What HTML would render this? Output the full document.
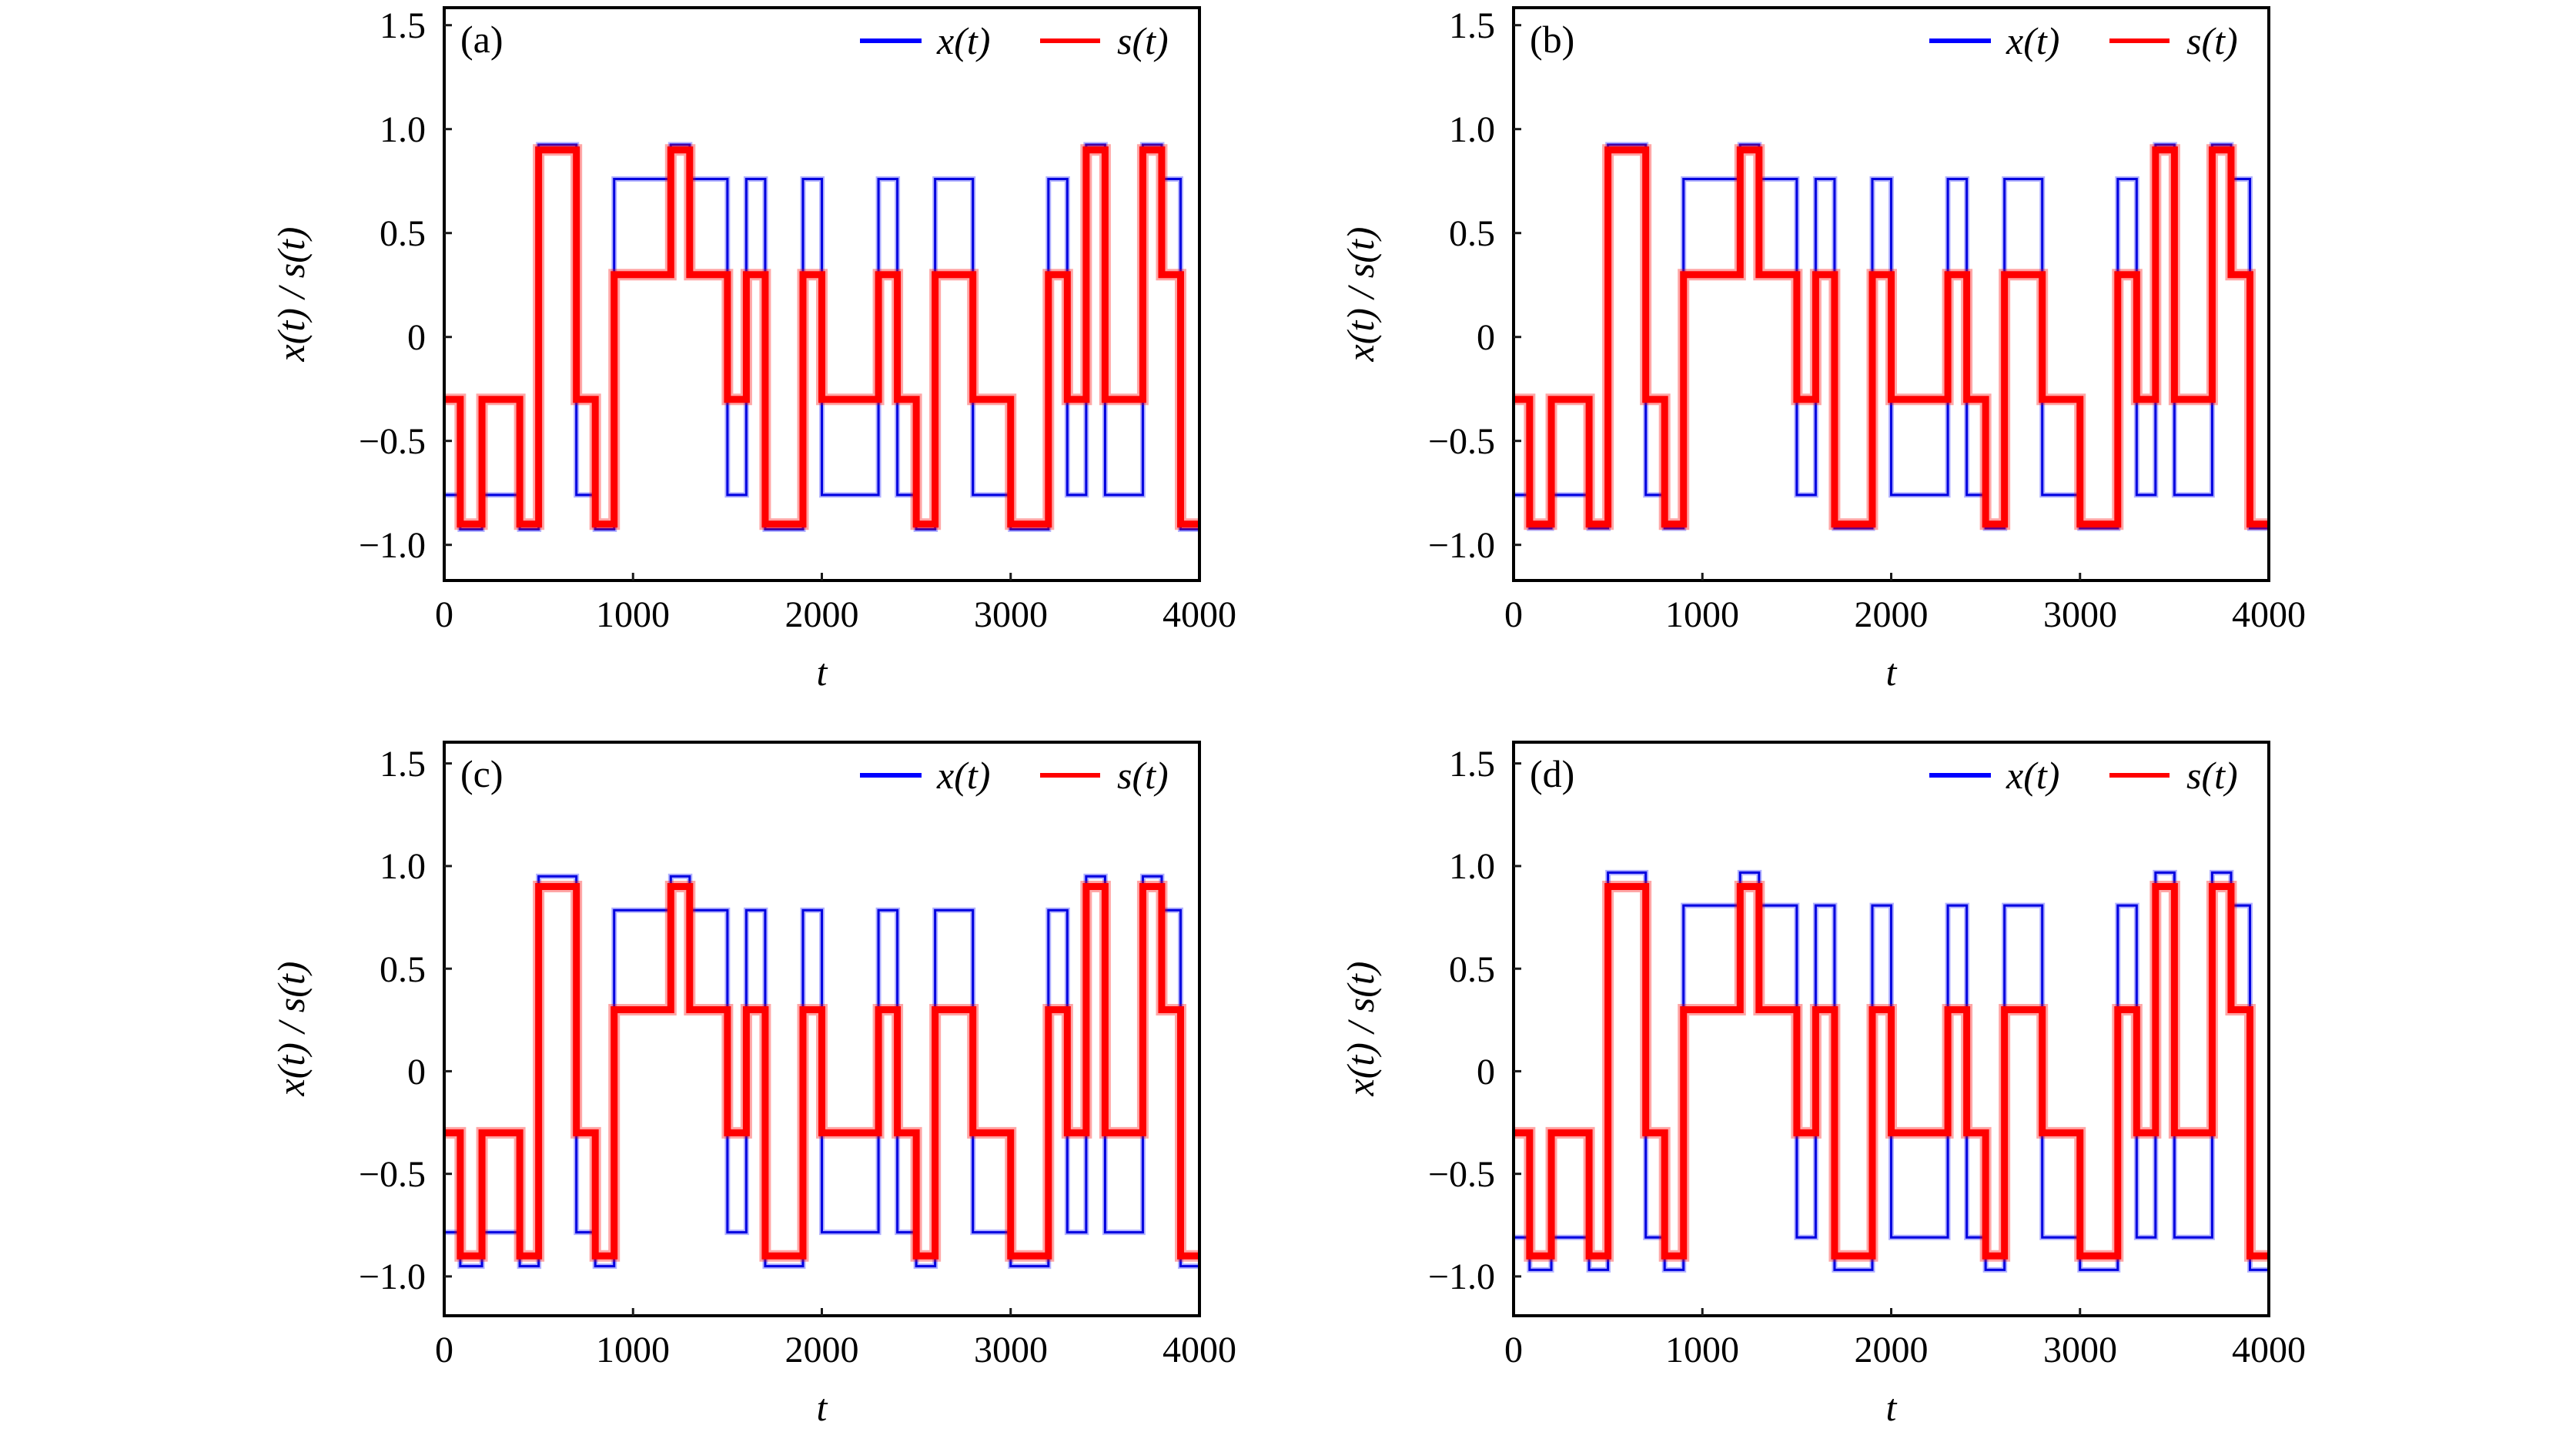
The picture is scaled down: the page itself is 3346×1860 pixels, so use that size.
<!DOCTYPE html>
<html><head><meta charset="utf-8"><style>
html,body{margin:0;padding:0;background:#fff;}
svg{display:block;}
text{font-family:"Liberation Serif","DejaVu Serif",serif;fill:#000;}
</style></head><body>
<svg xmlns="http://www.w3.org/2000/svg" width="3346" height="1860" viewBox="0 0 3346 1860">

<!-- ============ (a) ============ -->
<g>
<g transform="translate(577,437.7) scale(0.24525,-270)" fill="none">
<path d="M0 -0.76 H85 V-0.925 H200 V-0.76 H400 V-0.925 H500 V0.925 H700 V-0.76 H800 V-0.925 H900 V0.76 H1200 V0.925 H1300 V0.76 H1500 V-0.76 H1600 V0.76 H1700 V-0.925 H1900 V0.76 H2000 V-0.76 H2300 V0.76 H2400 V-0.76 H2500 V-0.925 H2600 V0.76 H2800 V-0.76 H3000 V-0.925 H3200 V0.76 H3300 V-0.76 H3400 V0.925 H3500 V-0.76 H3700 V0.925 H3800 V0.76 H3900 V-0.925 H4000" stroke="#0000ff" stroke-opacity="0.3" stroke-width="7" vector-effect="non-scaling-stroke"/>
<path d="M0 -0.76 H85 V-0.925 H200 V-0.76 H400 V-0.925 H500 V0.925 H700 V-0.76 H800 V-0.925 H900 V0.76 H1200 V0.925 H1300 V0.76 H1500 V-0.76 H1600 V0.76 H1700 V-0.925 H1900 V0.76 H2000 V-0.76 H2300 V0.76 H2400 V-0.76 H2500 V-0.925 H2600 V0.76 H2800 V-0.76 H3000 V-0.925 H3200 V0.76 H3300 V-0.76 H3400 V0.925 H3500 V-0.76 H3700 V0.925 H3800 V0.76 H3900 V-0.925 H4000" stroke="#0000e0" stroke-width="3" vector-effect="non-scaling-stroke"/>
<path d="M0 -0.3 H85 V-0.9 H200 V-0.3 H400 V-0.9 H500 V0.9 H700 V-0.3 H800 V-0.9 H900 V0.3 H1200 V0.9 H1300 V0.3 H1500 V-0.3 H1600 V0.3 H1700 V-0.9 H1900 V0.3 H2000 V-0.3 H2300 V0.3 H2400 V-0.3 H2500 V-0.9 H2600 V0.3 H2800 V-0.3 H3000 V-0.9 H3200 V0.3 H3300 V-0.3 H3400 V0.9 H3500 V-0.3 H3700 V0.9 H3800 V0.3 H3900 V-0.9 H4000" stroke="#ff0000" stroke-opacity="0.35" stroke-width="15" vector-effect="non-scaling-stroke"/>
<path d="M0 -0.3 H85 V-0.9 H200 V-0.3 H400 V-0.9 H500 V0.9 H700 V-0.3 H800 V-0.9 H900 V0.3 H1200 V0.9 H1300 V0.3 H1500 V-0.3 H1600 V0.3 H1700 V-0.9 H1900 V0.3 H2000 V-0.3 H2300 V0.3 H2400 V-0.3 H2500 V-0.9 H2600 V0.3 H2800 V-0.3 H3000 V-0.9 H3200 V0.3 H3300 V-0.3 H3400 V0.9 H3500 V-0.3 H3700 V0.9 H3800 V0.3 H3900 V-0.9 H4000" stroke="#ff0000" stroke-width="9" vector-effect="non-scaling-stroke"/>
</g>
<rect x="577" y="10" width="981" height="744" fill="none" stroke="#000" stroke-width="4"/>
<g stroke="#1a1a1a" stroke-width="3">
<line x1="577" y1="32.7" x2="587" y2="32.7"/><line x1="577" y1="167.7" x2="587" y2="167.7"/><line x1="577" y1="302.7" x2="587" y2="302.7"/><line x1="577" y1="437.7" x2="587" y2="437.7"/><line x1="577" y1="572.7" x2="587" y2="572.7"/><line x1="577" y1="707.7" x2="587" y2="707.7"/>
<line x1="822.25" y1="754" x2="822.25" y2="744"/><line x1="1067.5" y1="754" x2="1067.5" y2="744"/><line x1="1312.75" y1="754" x2="1312.75" y2="744"/>
</g>
<g font-size="48" text-anchor="end">
<text x="553" y="49">1.5</text><text x="553" y="184">1.0</text><text x="553" y="319">0.5</text><text x="553" y="454">0</text><text x="553" y="589">−0.5</text><text x="553" y="724">−1.0</text>
</g>
<g font-size="48" text-anchor="middle">
<text x="577" y="814">0</text><text x="822" y="814">1000</text><text x="1067.5" y="814">2000</text><text x="1313" y="814">3000</text><text x="1558" y="814">4000</text>
</g>
<text x="1067.5" y="890" font-size="50" font-style="italic" text-anchor="middle">t</text>
<text transform="translate(395,382) rotate(-90)" font-size="50" font-style="italic" text-anchor="middle">x(t) / s(t)</text>
<text x="598" y="68" font-size="50">(a)</text>
<line x1="1117" y1="53" x2="1197" y2="53" stroke="#0000ff" stroke-width="6"/>
<text x="1217" y="70" font-size="50" font-style="italic">x(t)</text>
<line x1="1351" y1="53" x2="1429" y2="53" stroke="#ff0000" stroke-width="6"/>
<text x="1451" y="70" font-size="50" font-style="italic">s(t)</text>
</g>

<!-- ============ (b) ============ -->
<g>
<g transform="translate(1966,437.7) scale(0.24525,-270)" fill="none">
<path d="M0 -0.76 H85 V-0.92 H200 V-0.76 H400 V-0.92 H500 V0.925 H700 V-0.76 H800 V-0.92 H900 V0.76 H1200 V0.925 H1300 V0.76 H1500 V-0.76 H1600 V0.76 H1700 V-0.92 H1900 V0.76 H2000 V-0.76 H2300 V0.76 H2400 V-0.76 H2500 V-0.92 H2600 V0.76 H2800 V-0.76 H3000 V-0.92 H3200 V0.76 H3300 V-0.76 H3400 V0.925 H3500 V-0.76 H3700 V0.925 H3800 V0.76 H3900 V-0.92 H4000" stroke="#0000ff" stroke-opacity="0.3" stroke-width="7" vector-effect="non-scaling-stroke"/>
<path d="M0 -0.76 H85 V-0.92 H200 V-0.76 H400 V-0.92 H500 V0.925 H700 V-0.76 H800 V-0.92 H900 V0.76 H1200 V0.925 H1300 V0.76 H1500 V-0.76 H1600 V0.76 H1700 V-0.92 H1900 V0.76 H2000 V-0.76 H2300 V0.76 H2400 V-0.76 H2500 V-0.92 H2600 V0.76 H2800 V-0.76 H3000 V-0.92 H3200 V0.76 H3300 V-0.76 H3400 V0.925 H3500 V-0.76 H3700 V0.925 H3800 V0.76 H3900 V-0.92 H4000" stroke="#0000e0" stroke-width="3" vector-effect="non-scaling-stroke"/>
<path d="M0 -0.3 H85 V-0.9 H200 V-0.3 H400 V-0.9 H500 V0.9 H700 V-0.3 H800 V-0.9 H900 V0.3 H1200 V0.9 H1300 V0.3 H1500 V-0.3 H1600 V0.3 H1700 V-0.9 H1900 V0.3 H2000 V-0.3 H2300 V0.3 H2400 V-0.3 H2500 V-0.9 H2600 V0.3 H2800 V-0.3 H3000 V-0.9 H3200 V0.3 H3300 V-0.3 H3400 V0.9 H3500 V-0.3 H3700 V0.9 H3800 V0.3 H3900 V-0.9 H4000" stroke="#ff0000" stroke-opacity="0.35" stroke-width="15" vector-effect="non-scaling-stroke"/>
<path d="M0 -0.3 H85 V-0.9 H200 V-0.3 H400 V-0.9 H500 V0.9 H700 V-0.3 H800 V-0.9 H900 V0.3 H1200 V0.9 H1300 V0.3 H1500 V-0.3 H1600 V0.3 H1700 V-0.9 H1900 V0.3 H2000 V-0.3 H2300 V0.3 H2400 V-0.3 H2500 V-0.9 H2600 V0.3 H2800 V-0.3 H3000 V-0.9 H3200 V0.3 H3300 V-0.3 H3400 V0.9 H3500 V-0.3 H3700 V0.9 H3800 V0.3 H3900 V-0.9 H4000" stroke="#ff0000" stroke-width="9" vector-effect="non-scaling-stroke"/>
</g>
<rect x="1966" y="10" width="981" height="744" fill="none" stroke="#000" stroke-width="4"/>
<g stroke="#1a1a1a" stroke-width="3">
<line x1="1966" y1="32.7" x2="1976" y2="32.7"/><line x1="1966" y1="167.7" x2="1976" y2="167.7"/><line x1="1966" y1="302.7" x2="1976" y2="302.7"/><line x1="1966" y1="437.7" x2="1976" y2="437.7"/><line x1="1966" y1="572.7" x2="1976" y2="572.7"/><line x1="1966" y1="707.7" x2="1976" y2="707.7"/>
<line x1="2211.25" y1="754" x2="2211.25" y2="744"/><line x1="2456.5" y1="754" x2="2456.5" y2="744"/><line x1="2701.75" y1="754" x2="2701.75" y2="744"/>
</g>
<g font-size="48" text-anchor="end">
<text x="1942" y="49">1.5</text><text x="1942" y="184">1.0</text><text x="1942" y="319">0.5</text><text x="1942" y="454">0</text><text x="1942" y="589">−0.5</text><text x="1942" y="724">−1.0</text>
</g>
<g font-size="48" text-anchor="middle">
<text x="1966" y="814">0</text><text x="2211" y="814">1000</text><text x="2456.5" y="814">2000</text><text x="2702" y="814">3000</text><text x="2947" y="814">4000</text>
</g>
<text x="2456.5" y="890" font-size="50" font-style="italic" text-anchor="middle">t</text>
<text transform="translate(1784,382) rotate(-90)" font-size="50" font-style="italic" text-anchor="middle">x(t) / s(t)</text>
<text x="1987" y="68" font-size="50">(b)</text>
<line x1="2506" y1="53" x2="2586" y2="53" stroke="#0000ff" stroke-width="6"/>
<text x="2606" y="70" font-size="50" font-style="italic">x(t)</text>
<line x1="2740" y1="53" x2="2818" y2="53" stroke="#ff0000" stroke-width="6"/>
<text x="2840" y="70" font-size="50" font-style="italic">s(t)</text>
</g>

<!-- ============ (c) ============ -->
<g>
<g transform="translate(577,1391.4) scale(0.24525,-266.5)" fill="none">
<path d="M0 -0.785 H85 V-0.95 H200 V-0.785 H400 V-0.95 H500 V0.95 H700 V-0.785 H800 V-0.95 H900 V0.785 H1200 V0.95 H1300 V0.785 H1500 V-0.785 H1600 V0.785 H1700 V-0.95 H1900 V0.785 H2000 V-0.785 H2300 V0.785 H2400 V-0.785 H2500 V-0.95 H2600 V0.785 H2800 V-0.785 H3000 V-0.95 H3200 V0.785 H3300 V-0.785 H3400 V0.95 H3500 V-0.785 H3700 V0.95 H3800 V0.785 H3900 V-0.95 H4000" stroke="#0000ff" stroke-opacity="0.3" stroke-width="7" vector-effect="non-scaling-stroke"/>
<path d="M0 -0.785 H85 V-0.95 H200 V-0.785 H400 V-0.95 H500 V0.95 H700 V-0.785 H800 V-0.95 H900 V0.785 H1200 V0.95 H1300 V0.785 H1500 V-0.785 H1600 V0.785 H1700 V-0.95 H1900 V0.785 H2000 V-0.785 H2300 V0.785 H2400 V-0.785 H2500 V-0.95 H2600 V0.785 H2800 V-0.785 H3000 V-0.95 H3200 V0.785 H3300 V-0.785 H3400 V0.95 H3500 V-0.785 H3700 V0.95 H3800 V0.785 H3900 V-0.95 H4000" stroke="#0000e0" stroke-width="3" vector-effect="non-scaling-stroke"/>
<path d="M0 -0.3 H85 V-0.9 H200 V-0.3 H400 V-0.9 H500 V0.9 H700 V-0.3 H800 V-0.9 H900 V0.3 H1200 V0.9 H1300 V0.3 H1500 V-0.3 H1600 V0.3 H1700 V-0.9 H1900 V0.3 H2000 V-0.3 H2300 V0.3 H2400 V-0.3 H2500 V-0.9 H2600 V0.3 H2800 V-0.3 H3000 V-0.9 H3200 V0.3 H3300 V-0.3 H3400 V0.9 H3500 V-0.3 H3700 V0.9 H3800 V0.3 H3900 V-0.9 H4000" stroke="#ff0000" stroke-opacity="0.35" stroke-width="15" vector-effect="non-scaling-stroke"/>
<path d="M0 -0.3 H85 V-0.9 H200 V-0.3 H400 V-0.9 H500 V0.9 H700 V-0.3 H800 V-0.9 H900 V0.3 H1200 V0.9 H1300 V0.3 H1500 V-0.3 H1600 V0.3 H1700 V-0.9 H1900 V0.3 H2000 V-0.3 H2300 V0.3 H2400 V-0.3 H2500 V-0.9 H2600 V0.3 H2800 V-0.3 H3000 V-0.9 H3200 V0.3 H3300 V-0.3 H3400 V0.9 H3500 V-0.3 H3700 V0.9 H3800 V0.3 H3900 V-0.9 H4000" stroke="#ff0000" stroke-width="9" vector-effect="non-scaling-stroke"/>
</g>
<rect x="577" y="964" width="981" height="745" fill="none" stroke="#000" stroke-width="4"/>
<g stroke="#1a1a1a" stroke-width="3">
<line x1="577" y1="991.6" x2="587" y2="991.6"/><line x1="577" y1="1124.9" x2="587" y2="1124.9"/><line x1="577" y1="1258.2" x2="587" y2="1258.2"/><line x1="577" y1="1391.4" x2="587" y2="1391.4"/><line x1="577" y1="1524.7" x2="587" y2="1524.7"/><line x1="577" y1="1657.9" x2="587" y2="1657.9"/>
<line x1="822.25" y1="1709" x2="822.25" y2="1699"/><line x1="1067.5" y1="1709" x2="1067.5" y2="1699"/><line x1="1312.75" y1="1709" x2="1312.75" y2="1699"/>
</g>
<g font-size="48" text-anchor="end">
<text x="553" y="1008">1.5</text><text x="553" y="1141">1.0</text><text x="553" y="1275">0.5</text><text x="553" y="1408">0</text><text x="553" y="1541">−0.5</text><text x="553" y="1674">−1.0</text>
</g>
<g font-size="48" text-anchor="middle">
<text x="577" y="1769">0</text><text x="822" y="1769">1000</text><text x="1067.5" y="1769">2000</text><text x="1313" y="1769">3000</text><text x="1558" y="1769">4000</text>
</g>
<text x="1067.5" y="1845" font-size="50" font-style="italic" text-anchor="middle">t</text>
<text transform="translate(395,1336) rotate(-90)" font-size="50" font-style="italic" text-anchor="middle">x(t) / s(t)</text>
<text x="598" y="1022" font-size="50">(c)</text>
<line x1="1117" y1="1007" x2="1197" y2="1007" stroke="#0000ff" stroke-width="6"/>
<text x="1217" y="1024" font-size="50" font-style="italic">x(t)</text>
<line x1="1351" y1="1007" x2="1429" y2="1007" stroke="#ff0000" stroke-width="6"/>
<text x="1451" y="1024" font-size="50" font-style="italic">s(t)</text>
</g>

<!-- ============ (d) ============ -->
<g>
<g transform="translate(1966,1391.4) scale(0.24525,-266.5)" fill="none">
<path d="M0 -0.81 H85 V-0.968 H200 V-0.81 H400 V-0.968 H500 V0.968 H700 V-0.81 H800 V-0.968 H900 V0.808 H1200 V0.968 H1300 V0.808 H1500 V-0.81 H1600 V0.808 H1700 V-0.968 H1900 V0.808 H2000 V-0.81 H2300 V0.808 H2400 V-0.81 H2500 V-0.968 H2600 V0.808 H2800 V-0.81 H3000 V-0.968 H3200 V0.808 H3300 V-0.81 H3400 V0.968 H3500 V-0.81 H3700 V0.968 H3800 V0.808 H3900 V-0.968 H4000" stroke="#0000ff" stroke-opacity="0.3" stroke-width="7" vector-effect="non-scaling-stroke"/>
<path d="M0 -0.81 H85 V-0.968 H200 V-0.81 H400 V-0.968 H500 V0.968 H700 V-0.81 H800 V-0.968 H900 V0.808 H1200 V0.968 H1300 V0.808 H1500 V-0.81 H1600 V0.808 H1700 V-0.968 H1900 V0.808 H2000 V-0.81 H2300 V0.808 H2400 V-0.81 H2500 V-0.968 H2600 V0.808 H2800 V-0.81 H3000 V-0.968 H3200 V0.808 H3300 V-0.81 H3400 V0.968 H3500 V-0.81 H3700 V0.968 H3800 V0.808 H3900 V-0.968 H4000" stroke="#0000e0" stroke-width="3" vector-effect="non-scaling-stroke"/>
<path d="M0 -0.3 H85 V-0.9 H200 V-0.3 H400 V-0.9 H500 V0.9 H700 V-0.3 H800 V-0.9 H900 V0.3 H1200 V0.9 H1300 V0.3 H1500 V-0.3 H1600 V0.3 H1700 V-0.9 H1900 V0.3 H2000 V-0.3 H2300 V0.3 H2400 V-0.3 H2500 V-0.9 H2600 V0.3 H2800 V-0.3 H3000 V-0.9 H3200 V0.3 H3300 V-0.3 H3400 V0.9 H3500 V-0.3 H3700 V0.9 H3800 V0.3 H3900 V-0.9 H4000" stroke="#ff0000" stroke-opacity="0.35" stroke-width="15" vector-effect="non-scaling-stroke"/>
<path d="M0 -0.3 H85 V-0.9 H200 V-0.3 H400 V-0.9 H500 V0.9 H700 V-0.3 H800 V-0.9 H900 V0.3 H1200 V0.9 H1300 V0.3 H1500 V-0.3 H1600 V0.3 H1700 V-0.9 H1900 V0.3 H2000 V-0.3 H2300 V0.3 H2400 V-0.3 H2500 V-0.9 H2600 V0.3 H2800 V-0.3 H3000 V-0.9 H3200 V0.3 H3300 V-0.3 H3400 V0.9 H3500 V-0.3 H3700 V0.9 H3800 V0.3 H3900 V-0.9 H4000" stroke="#ff0000" stroke-width="9" vector-effect="non-scaling-stroke"/>
</g>
<rect x="1966" y="964" width="981" height="745" fill="none" stroke="#000" stroke-width="4"/>
<g stroke="#1a1a1a" stroke-width="3">
<line x1="1966" y1="991.6" x2="1976" y2="991.6"/><line x1="1966" y1="1124.9" x2="1976" y2="1124.9"/><line x1="1966" y1="1258.2" x2="1976" y2="1258.2"/><line x1="1966" y1="1391.4" x2="1976" y2="1391.4"/><line x1="1966" y1="1524.7" x2="1976" y2="1524.7"/><line x1="1966" y1="1657.9" x2="1976" y2="1657.9"/>
<line x1="2211.25" y1="1709" x2="2211.25" y2="1699"/><line x1="2456.5" y1="1709" x2="2456.5" y2="1699"/><line x1="2701.75" y1="1709" x2="2701.75" y2="1699"/>
</g>
<g font-size="48" text-anchor="end">
<text x="1942" y="1008">1.5</text><text x="1942" y="1141">1.0</text><text x="1942" y="1275">0.5</text><text x="1942" y="1408">0</text><text x="1942" y="1541">−0.5</text><text x="1942" y="1674">−1.0</text>
</g>
<g font-size="48" text-anchor="middle">
<text x="1966" y="1769">0</text><text x="2211" y="1769">1000</text><text x="2456.5" y="1769">2000</text><text x="2702" y="1769">3000</text><text x="2947" y="1769">4000</text>
</g>
<text x="2456.5" y="1845" font-size="50" font-style="italic" text-anchor="middle">t</text>
<text transform="translate(1784,1336) rotate(-90)" font-size="50" font-style="italic" text-anchor="middle">x(t) / s(t)</text>
<text x="1987" y="1022" font-size="50">(d)</text>
<line x1="2506" y1="1007" x2="2586" y2="1007" stroke="#0000ff" stroke-width="6"/>
<text x="2606" y="1024" font-size="50" font-style="italic">x(t)</text>
<line x1="2740" y1="1007" x2="2818" y2="1007" stroke="#ff0000" stroke-width="6"/>
<text x="2840" y="1024" font-size="50" font-style="italic">s(t)</text>
</g>
</svg>
</body></html>
